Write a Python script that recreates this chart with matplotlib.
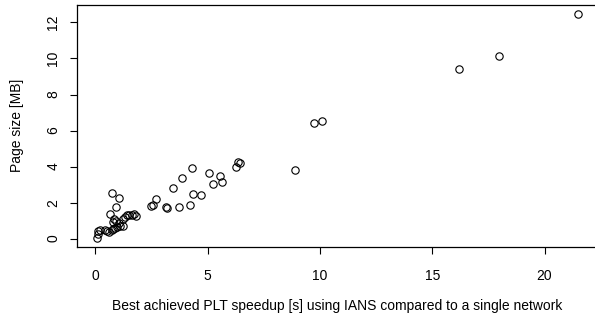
import matplotlib
matplotlib.use("Agg")
import matplotlib.pyplot as plt

speedup = [0.05, 0.10, 0.13, 0.20, 0.42, 0.52, 0.62, 0.72, 0.80, 0.87, 0.97, 1.09,
           0.79, 0.91, 1.05, 1.21, 1.31, 1.39, 1.51, 1.61, 1.71, 1.80, 1.24, 0.84,
           0.66, 0.90, 1.04, 0.72, 2.46, 2.58, 2.70, 3.12, 3.20, 3.72, 4.19, 3.45,
           4.33, 4.72, 3.87, 4.29, 5.06, 5.56, 5.24, 5.65, 6.25, 6.33, 6.44, 8.87,
           9.72, 10.07, 16.19, 17.99, 21.50]
page_size = [0.05, 0.25, 0.42, 0.45, 0.45, 0.40, 0.38, 0.45, 0.55, 0.58, 0.63, 0.72,
             0.92, 0.98, 0.88, 1.07, 1.22, 1.33, 1.33, 1.30, 1.35, 1.28, 0.70, 1.11,
             1.37, 1.74, 2.23, 2.53, 1.82, 1.88, 2.20, 1.73, 1.70, 1.77, 1.86, 2.79,
             2.50, 2.44, 3.37, 3.94, 3.65, 3.50, 3.05, 3.13, 3.99, 4.27, 4.17, 3.80,
             6.44, 6.55, 9.42, 10.16, 12.47]
xticks = [0, 5, 10, 15, 20]
yticks = [0, 2, 4, 6, 8, 10, 12]

plt.rcParams['font.family'] = ['Liberation Sans', 'DejaVu Sans']

fig = plt.figure(figsize=(5.95, 3.22), dpi=100)
ax = fig.add_axes([77.3 / 595, (322 - 246.7) / 322, (597.5 - 77.3) / 595, (246.7 - 5) / 322])

ax.plot(speedup, page_size, linestyle='none', marker='o', markersize=5.3,
        markerfacecolor='none', markeredgecolor='black', markeredgewidth=0.8)

ax.set_xlim(-0.81, 22.36)
ax.set_ylim(-0.45, 12.97)
ax.set_xticks(xticks)
ax.set_yticks(yticks)
ax.set_xticklabels([str(t) for t in xticks])
ax.set_yticklabels([str(t) for t in yticks], rotation=90, va='center')

for s in ax.spines.values():
    s.set_linewidth(0.9)
    s.set_color('black')
ax.tick_params(axis='both', direction='out', length=5.2, width=0.8, labelsize=10, colors='black')
ax.tick_params(axis='x', pad=11)
ax.tick_params(axis='y', pad=7)

ax.set_xlabel('Best achieved PLT speedup [s] using IANS compared to a single network',
              fontsize=10)
ax.set_ylabel('Page size [MB]', fontsize=10)
W = 597.5 - 77.3
H = 246.7 - 5
ax.xaxis.set_label_coords((337 - 77.3) / W, -(299 - 246.7) / H)
ax.yaxis.set_label_coords(-(77.3 - 24) / W, (246.7 - 125) / H)

fig.savefig('out.png', dpi=100)
